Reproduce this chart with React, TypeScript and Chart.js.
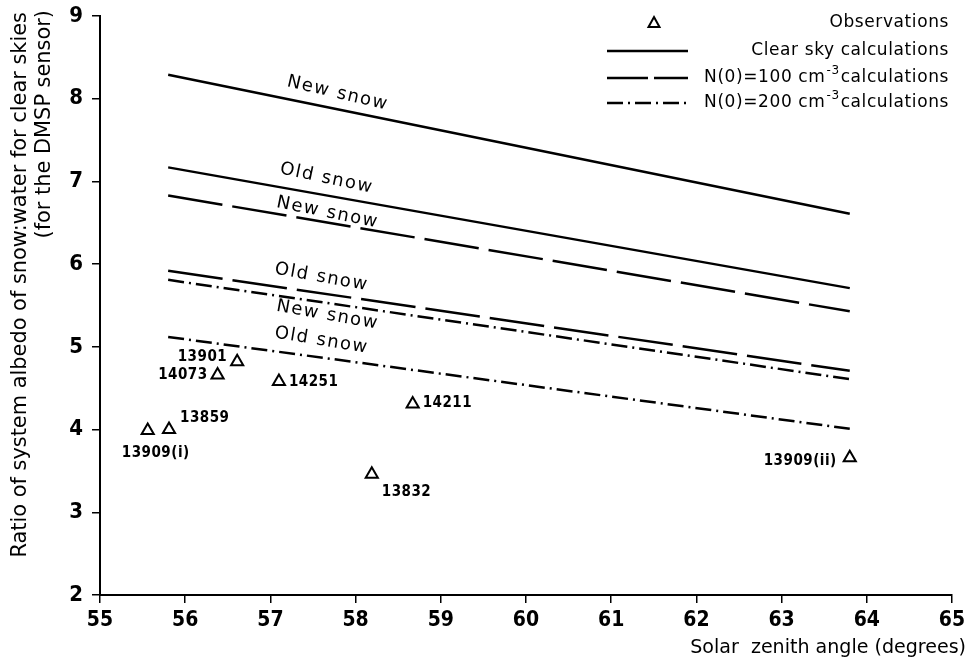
import React, { useEffect, useRef } from 'react';
import { Chart, registerables } from 'chart.js';

Chart.register(...registerables);

// ---- data ----
const xTickValues = [55, 56, 57, 58, 59, 60, 61, 62, 63, 64, 65];
const yTickValues = [2, 3, 4, 5, 6, 7, 8, 9];

const lineX = [55.8, 63.8];
const clearNew = [8.29, 6.61];
const clearOld = [7.17, 5.71];
const n100New = [6.83, 5.43];
const n100Old = [5.92, 4.71];
const n200New = [5.81, 4.61];
const n200Old = [5.12, 4.01];

const obsIds = ['13901', '14073', '14251', '14211', '13859', '13909(i)', '13832', '13909(ii)'];
const obsX = [56.61, 56.38, 57.1, 58.67, 55.81, 55.56, 58.19, 63.8];
const obsY = [4.82, 4.66, 4.58, 4.31, 4.0, 3.99, 3.46, 3.66];

const legendNames = ['Observations', 'Clear sky calculations', 'N(0)=100 cm', 'N(0)=200 cm'];
const snowNames = ['New snow', 'Old snow'];

const xTitle = 'Solar  zenith angle (degrees)';
const yTitle1 = 'Ratio of system albedo of snow:water for clear skies';
const yTitle2 = '(for the DMSP sensor)';

// ---- styles ----
const DASHED = [55, 10];
const DASHDOT = [16, 5, 2, 5];
const FONT = '"DejaVu Sans", sans-serif';
const FONT_C = '"DejaVu Sans Condensed", "DejaVu Sans", sans-serif';

const mkLine = (ys: number[], dash: number[]) => ({
  type: 'line' as const,
  data: lineX.map((x, i) => ({ x, y: ys[i] })),
  borderColor: '#000',
  borderWidth: 2.5,
  borderDash: dash,
  pointRadius: 0,
  fill: false,
  tension: 0,
});

function fitFont(ctx: CanvasRenderingContext2D, text: string, width: number, family: string, weight = 'normal') {
  ctx.font = `${weight} 20px ${family}`;
  const w = ctx.measureText(text).width;
  return (20 * width) / w;
}

const overlay = {
  id: 'overlay',
  afterDraw(chart: any) {
    const ctx: CanvasRenderingContext2D = chart.ctx;
    const xs = chart.scales.x;
    const ys = chart.scales.y;
    ctx.save();
    ctx.fillStyle = '#000';
    ctx.strokeStyle = '#000';

    // labels along the calculation lines
    const lineLabels = [
      { ds: 1, text: snowNames[0], x: 57.79, off: -16 },
      { ds: 2, text: snowNames[1], x: 57.66, off: -17 },
      { ds: 3, text: snowNames[0], x: 57.67, off: -10 },
      { ds: 4, text: snowNames[1], x: 57.6, off: -16 },
      { ds: 5, text: snowNames[0], x: 57.67, off: 12 },
      { ds: 6, text: snowNames[1], x: 57.6, off: -17 },
    ];
    ctx.font = `18px ${FONT}`;
    (ctx as any).letterSpacing = '1.5px';
    ctx.textAlign = 'center';
    ctx.textBaseline = 'middle';
    for (const l of lineLabels) {
      const d = chart.data.datasets[l.ds].data;
      const x0 = xs.getPixelForValue(d[0].x), y0 = ys.getPixelForValue(d[0].y);
      const x1 = xs.getPixelForValue(d[1].x), y1 = ys.getPixelForValue(d[1].y);
      const ang = Math.atan2(y1 - y0, x1 - x0) + 0.03;
      const px = xs.getPixelForValue(l.x);
      const t = (px - x0) / (x1 - x0);
      const py = y0 + t * (y1 - y0) + l.off;
      ctx.save();
      ctx.translate(px, py);
      ctx.rotate(ang);
      ctx.fillText(l.text, 0, 0);
      ctx.restore();
    }
    (ctx as any).letterSpacing = '0px';

    // observation labels
    const obsPlace = [
      { a: 'right', dx: -10, dy: -5 },
      { a: 'right', dx: -10, dy: 0 },
      { a: 'left', dx: 10, dy: 1 },
      { a: 'left', dx: 10, dy: -1 },
      { a: 'left', dx: 11, dy: -11 },
      { a: 'center', dx: 8, dy: 23 },
      { a: 'left', dx: 10, dy: 18 },
      { a: 'right', dx: -13, dy: 3 },
    ];
    ctx.font = `bold 15px ${FONT_C}`;
    (ctx as any).letterSpacing = '0.5px';
    obsIds.forEach((id, i) => {
      const p = obsPlace[i];
      const px = xs.getPixelForValue(obsX[i]);
      const py = ys.getPixelForValue(obsY[i]);
      ctx.textAlign = p.a as CanvasTextAlign;
      ctx.fillText(id, px + p.dx, py + p.dy);
    });
    (ctx as any).letterSpacing = '0px';

    // legend
    const R = 949;
    const sx0 = 607, sx1 = 688;
    const rowsY = [23, 51, 78, 103];
    ctx.font = `17px ${FONT}`;
    ctx.textAlign = 'right';
    (ctx as any).letterSpacing = '0.6px';
    ctx.fillText(legendNames[0], R, rowsY[0]);
    ctx.fillText(legendNames[1], R, rowsY[1]);
    for (const k of [2, 3]) {
      const y = rowsY[k];
      ctx.font = `17px ${FONT}`;
      const tail = 'calculations';
      ctx.fillText(tail, R, y);
      const wt = ctx.measureText(tail).width;
      ctx.font = `12px ${FONT}`;
      ctx.fillText('-3', R - wt - 1, y - 7);
      const ws = ctx.measureText('-3').width;
      ctx.font = `17px ${FONT}`;
      ctx.fillText(legendNames[k], R - wt - ws - 2, y);
    }
    (ctx as any).letterSpacing = '0px';
    // legend symbols
    ctx.lineWidth = 2;
    ctx.beginPath();
    const tx = 654, ty = rowsY[0];
    ctx.moveTo(tx, ty - 6);
    ctx.lineTo(tx + 5.5, ty + 4);
    ctx.lineTo(tx - 5.5, ty + 4);
    ctx.closePath();
    ctx.stroke();
    ctx.lineWidth = 2.5;
    const dashes = [[], [41, 6], DASHDOT];
    dashes.forEach((dash, i) => {
      ctx.setLineDash(dash);
      ctx.beginPath();
      ctx.moveTo(sx0, rowsY[i + 1]);
      ctx.lineTo(sx1, rowsY[i + 1]);
      ctx.stroke();
    });
    ctx.setLineDash([]);

    // axis titles
    ctx.textBaseline = 'middle';
    ctx.textAlign = 'right';
    const fx = fitFont(ctx, xTitle, 276, FONT);
    ctx.font = `${fx}px ${FONT}`;
    ctx.fillText(xTitle, 966, 648);

    const f1 = fitFont(ctx, yTitle1, 546, FONT);
    ctx.save();
    ctx.translate(21, 12);
    ctx.rotate(-Math.PI / 2);
    ctx.font = `${f1}px ${FONT}`;
    ctx.fillText(yTitle1, 0, 0);
    ctx.restore();

    ctx.save();
    ctx.translate(45, 10);
    ctx.rotate(-Math.PI / 2);
    ctx.font = `${f1}px ${FONT}`;
    ctx.fillText(yTitle2, 0, 0);
    ctx.restore();

    ctx.restore();
  },
};

export default function App() {
  const ref = useRef<HTMLCanvasElement | null>(null);
  useEffect(() => {
    document.body.style.margin = '0';
    if (!ref.current) return;
    const chart = new Chart(ref.current, {
      type: 'scatter',
      data: {
        datasets: [
          {
            type: 'scatter',
            data: obsX.map((x, i) => ({ x, y: obsY[i] })),
            pointStyle: 'triangle',
            pointRadius: 7,
            borderColor: '#000',
            backgroundColor: '#fff',
            borderWidth: 2,
          } as any,
          mkLine(clearNew, []),
          mkLine(clearOld, []),
          mkLine(n100New, DASHED),
          mkLine(n100Old, DASHED),
          mkLine(n200New, DASHDOT),
          mkLine(n200Old, DASHDOT),
        ],
      },
      options: {
        animation: false,
        responsive: false,
        devicePixelRatio: 1,
        events: [],
        layout: { padding: { left: 0, right: 16, top: 16, bottom: 0 } },
        plugins: { legend: { display: false }, tooltip: { enabled: false }, title: { display: false } },
        scales: {
          x: {
            type: 'linear',
            min: 55,
            max: 65,
            afterBuildTicks: (s: any) => { s.ticks = xTickValues.map((v) => ({ value: v })); },
            afterFit: (s: any) => { s.height = 63; s.paddingLeft = 0; s.paddingRight = 0; },
            ticks: { color: '#000', padding: 5, font: { family: FONT_C, size: 21, weight: 'bold' } },
            grid: { display: true, drawOnChartArea: false, drawTicks: true, tickLength: 8, color: '#000', lineWidth: 1.5 },
            border: { display: true, color: '#000', width: 2 },
          },
          y: {
            type: 'linear',
            min: 2,
            max: 9,
            afterBuildTicks: (s: any) => { s.ticks = yTickValues.map((v) => ({ value: v })); },
            afterFit: (s: any) => { s.width = 100; s.paddingTop = 0; s.paddingBottom = 0; },
            ticks: { color: '#000', padding: 9, font: { family: FONT_C, size: 22, weight: 'bold' } },
            grid: { display: true, drawOnChartArea: false, drawTicks: true, tickLength: 8, color: '#000', lineWidth: 1.5 },
            border: { display: true, color: '#000', width: 2 },
          },
        },
      } as any,
      plugins: [overlay],
    });
    return () => chart.destroy();
  }, []);
  return (
    <div style={{ width: 968, height: 658 }}>
      <canvas ref={ref} width={968} height={658} style={{ display: 'block' }} />
    </div>
  );
}
